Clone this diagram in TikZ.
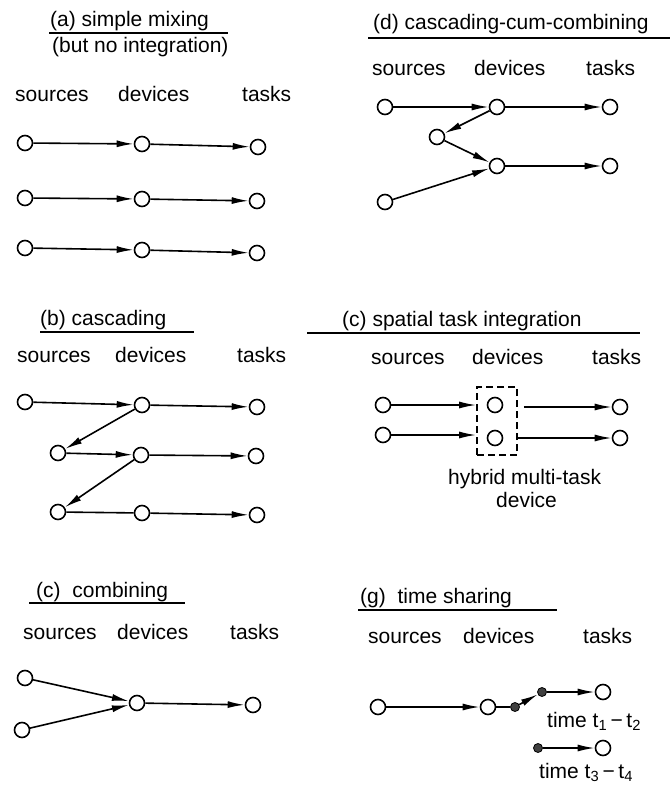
\documentclass[tikz,border=0pt]{standalone}
\usepackage{fontspec}
\setmainfont{Liberation Sans}
\usetikzlibrary{arrows.meta}
\begin{document}
\begin{tikzpicture}[x=1pt,y=-1pt,
  every node/.style={font=\fontsize{21}{24}\selectfont},
  nd/.style={circle,draw,line width=1.6pt,minimum size=15pt,inner sep=0pt},
  dot/.style={circle,draw,fill=black!75,line width=0.8pt,minimum size=9pt,inner sep=0pt},
  arr/.style={line width=1.6pt,-{Latex[length=17pt,width=7pt]}},
  lnk/.style={line width=1.6pt},
  lbl/.style={anchor=base west,inner sep=0pt},
  uline/.style={line width=1.6pt},
  hybox/.style={draw,dashed,dash pattern=on 7pt off 4pt,line width=1.6pt,
                minimum width=40pt,minimum height=68pt,inner sep=0pt}]
\useasboundingbox (0,0) rectangle (670,791);

% ---------- (a) simple mixing ----------
\node[lbl] (ta) at (50,27) {(a) simple mixing};
\draw[uline] (49,33) -- (228,33);
\node[lbl] (ta2) at (52,53) {(but no integration)};
\node[lbl] (as) at (15,102) {sources};
\node[lbl] (ad) at (118,102) {devices};
\node[lbl] (at) at (242,102) {tasks};
\node[nd] (a1s) at (25,143) {};
\node[nd] (a1d) at (142,144) {};
\node[nd] (a1t) at (258,147) {};
\node[nd] (a2s) at (25,198) {};
\node[nd] (a2d) at (142,199) {};
\node[nd] (a2t) at (257,201) {};
\node[nd] (a3s) at (25,248) {};
\node[nd] (a3d) at (142,250) {};
\node[nd] (a3t) at (257,253) {};
\draw[arr] (a1s) -- (a1d);
\draw[arr] (a1d) -- (a1t);
\draw[arr] (a2s) -- (a2d);
\draw[arr] (a2d) -- (a2t);
\draw[arr] (a3s) -- (a3d);
\draw[arr] (a3d) -- (a3t);

% ---------- (b) cascading ----------
\node[lbl] (tb) at (40,325) {(b) cascading};
\draw[uline] (40,332) -- (194,332);
\node[lbl] (bs) at (17,362) {sources};
\node[lbl] (bd) at (115,362) {devices};
\node[lbl] (bt) at (237,362) {tasks};
\node[nd] (b1s) at (25,402) {};
\node[nd] (b1d) at (142,405) {};
\node[nd] (b1t) at (257,407) {};
\node[nd] (b2s) at (58,453) {};
\node[nd] (b2d) at (141,455) {};
\node[nd] (b2t) at (256,456) {};
\node[nd] (b3s) at (58,512) {};
\node[nd] (b3d) at (142,513) {};
\node[nd] (b3t) at (257,515) {};
\draw[arr] (b1s) -- (b1d);
\draw[arr] (b1d) -- (b1t);
\draw[arr] (b1d) -- (b2s);
\draw[arr] (b2s) -- (b2d);
\draw[arr] (b2d) -- (b2t);
\draw[arr] (b2d) -- (b3s);
\draw[lnk] (b3s) -- (b3d);
\draw[arr] (b3d) -- (b3t);

% ---------- (c) combining ----------
\node[lbl] (tc) at (36,597) {(c)\ \ combining};
\draw[uline] (29,603) -- (185,603);
\node[lbl] (cs) at (23,639) {sources};
\node[lbl] (cd) at (117,639) {devices};
\node[lbl] (ct) at (230,639) {tasks};
\node[nd] (c1s) at (25,678) {};
\node[nd] (c2s) at (22,730) {};
\node[nd] (cdv) at (137,703) {};
\node[nd] (ctk) at (253,705) {};
\draw[arr] (c1s) -- (cdv);
\draw[arr] (c2s) -- (cdv);
\draw[arr] (cdv) -- (ctk);

% ---------- (d) cascading-cum-combining ----------
\node[lbl] (td) at (373,30) {(d) cascading-cum-combining};
\draw[uline] (368,38) -- (670,38);
\node[lbl] (ds) at (372,76) {sources};
\node[lbl] (dd) at (474,76) {devices};
\node[lbl] (dt) at (586,76) {tasks};
\node[nd] (d1s) at (385,107) {};
\node[nd] (d1d) at (497,107) {};
\node[nd] (d1t) at (610,107) {};
\node[nd] (dm) at (437,137) {};
\node[nd] (d2d) at (497,166) {};
\node[nd] (d2t) at (610,166) {};
\node[nd] (d2s) at (385,202) {};
\draw[arr] (d1s) -- (d1d);
\draw[arr] (d1d) -- (d1t);
\draw[arr] (d1d) -- (dm);
\draw[arr] (dm) -- (d2d);
\draw[arr] (d2s) -- (d2d);
\draw[arr] (d2d) -- (d2t);

% ---------- (c) spatial task integration ----------
\node[lbl] (te) at (342,326) {(c) spatial task integration};
\draw[uline] (307,333) -- (640,333);
\node[lbl] (es) at (371,364) {sources};
\node[lbl] (ed) at (472,364) {devices};
\node[lbl] (et) at (592,364) {tasks};
\node[hybox] (hyb) at (497,421) {};
\node[nd] (e1s) at (383,405) {};
\node[nd] (e2s) at (383,435) {};
\node[nd] (e1d) at (495,405) {};
\node[nd] (e2d) at (495,438) {};
\node[nd] (e1t) at (620,407) {};
\node[nd] (e2t) at (620,438) {};
\coordinate (e1in) at (hyb.west |- e1s);
\coordinate (e2in) at (hyb.west |- e2s);
\coordinate (e1out) at ([xshift=6pt]hyb.east |- e1t);
\coordinate (e2out) at (hyb.east |- e2t);
\draw[arr] (e1s) -- (e1in);
\draw[arr] (e2s) -- (e2in);
\draw[arr] (e1out) -- (e1t);
\draw[arr] (e2out) -- (e2t);
\node[lbl] (eh1) at (448,484) {hybrid multi-task};
\node[lbl] (eh2) at (496,507) {device};

% ---------- (g) time sharing ----------
\node[lbl] (tg) at (360,603) {(g)\ \ time sharing};
\draw[uline] (358,610) -- (557,610);
\node[lbl] (gs) at (368,643) {sources};
\node[lbl] (gd) at (463,643) {devices};
\node[lbl] (gt) at (583,643) {tasks};
\node[nd] (gsrc) at (378,707) {};
\node[nd] (gdev) at (488,707) {};
\node[dot] (gp1) at (515,707) {};
\node[dot] (gp2) at (542,692) {};
\node[nd] (gt1) at (603,692) {};
\node[dot] (gp3) at (538,748) {};
\node[nd] (gt2) at (603,748) {};
\draw[arr] (gsrc) -- (gdev);
\draw[lnk] (gdev) -- (gp1);
\draw[arr] (gp1) -- (gp2);
\draw[arr] (gp2) -- (gt1);
\draw[arr] (gp3) -- (gt2);
\node[lbl] (gl1) at (547,727) {time t\textsubscript{1}\,−\,t\textsubscript{2}};
\node[lbl] (gl2) at (539,778) {time t\textsubscript{3}\,−\,t\textsubscript{4}};
\end{tikzpicture}
\end{document}
